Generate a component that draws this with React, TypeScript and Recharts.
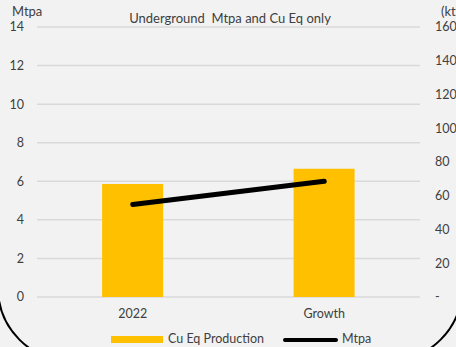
import { ComposedChart, Bar, Line, XAxis, YAxis, CartesianGrid } from 'recharts'

const categories = ['2022', 'Growth']
const cuEqKt = [67, 76]
const mtpa = [4.8, 6.0]
const leftTicks = [0, 2, 4, 6, 8, 10, 12, 14]
const rightTicks = [0, 20, 40, 60, 80, 100, 120, 140, 160]

const data = categories.map((c, i) => ({ name: c, cuEq: cuEqKt[i], mtpa: mtpa[i] }))

const font = 'Lato, "Open Sans", sans-serif'
const tickStyle = { fill: '#404040', fontSize: 12.5, fontFamily: font }

export default function App() {
  return (
    <div style={{ position: 'absolute', left: 0, top: 0, width: 456, height: 347, overflow: 'hidden', background: '#f2f2f2', fontFamily: font, color: '#404040' }}>
      <ComposedChart width={456} height={347} data={data} margin={{ top: 27, right: 0, left: 0, bottom: 0 }} barCategoryGap="34%">
        <CartesianGrid vertical={false} stroke="#d9d9d9" strokeWidth={1.5} yAxisId="left" />
        <XAxis dataKey="name" height={50} axisLine={false} tickLine={false} tickSize={0} tickMargin={12} tick={tickStyle} />
        <YAxis yAxisId="left" orientation="left" width={37} domain={[0, 14]} ticks={leftTicks} axisLine={false} tickLine={false} tickSize={0} tickMargin={13} tick={tickStyle} />
        <YAxis yAxisId="right" orientation="right" width={36} domain={[0, 160]} ticks={rightTicks} axisLine={false} tickLine={false} tickSize={0} tickMargin={15} tick={{ ...tickStyle, textAnchor: 'start' }} tickFormatter={(v: number) => (v === 0 ? '-' : String(v))} />
        <Bar yAxisId="right" dataKey="cuEq" fill="#ffc000" isAnimationActive={false} />
        <Line yAxisId="left" dataKey="mtpa" stroke="#000" strokeWidth={5} strokeLinecap="round" dot={false} activeDot={false} isAnimationActive={false} />
      </ComposedChart>

      {/* axis titles and chart title */}
      <div style={{ position: 'absolute', left: 12, top: 3, fontSize: 13 }}>Mtpa</div>
      <div style={{ position: 'absolute', left: 441, top: 3, fontSize: 13, whiteSpace: 'nowrap' }}>(kt)</div>
      <div style={{ position: 'absolute', left: 0, width: 460, top: 10, textAlign: 'center', fontSize: 13, whiteSpace: 'pre' }}>Underground  Mtpa and Cu Eq only</div>

      {/* legend */}
      <div style={{ position: 'absolute', left: 111, top: 336, width: 52, height: 7, background: '#ffc000' }} />
      <div style={{ position: 'absolute', left: 168, top: 331, fontSize: 12.5, whiteSpace: 'nowrap' }}>Cu Eq Production</div>
      <div style={{ position: 'absolute', left: 283, top: 338, width: 55, height: 4, borderRadius: 2, background: '#000' }} />
      <div style={{ position: 'absolute', left: 342, top: 331, fontSize: 12.5 }}>Mtpa</div>

      {/* rounded frame */}
      <div style={{ position: 'absolute', left: -3, top: -100, width: 466, height: 462, border: '2px solid #000', borderRadius: 74, boxSizing: 'border-box', pointerEvents: 'none' }} />
    </div>
  )
}
